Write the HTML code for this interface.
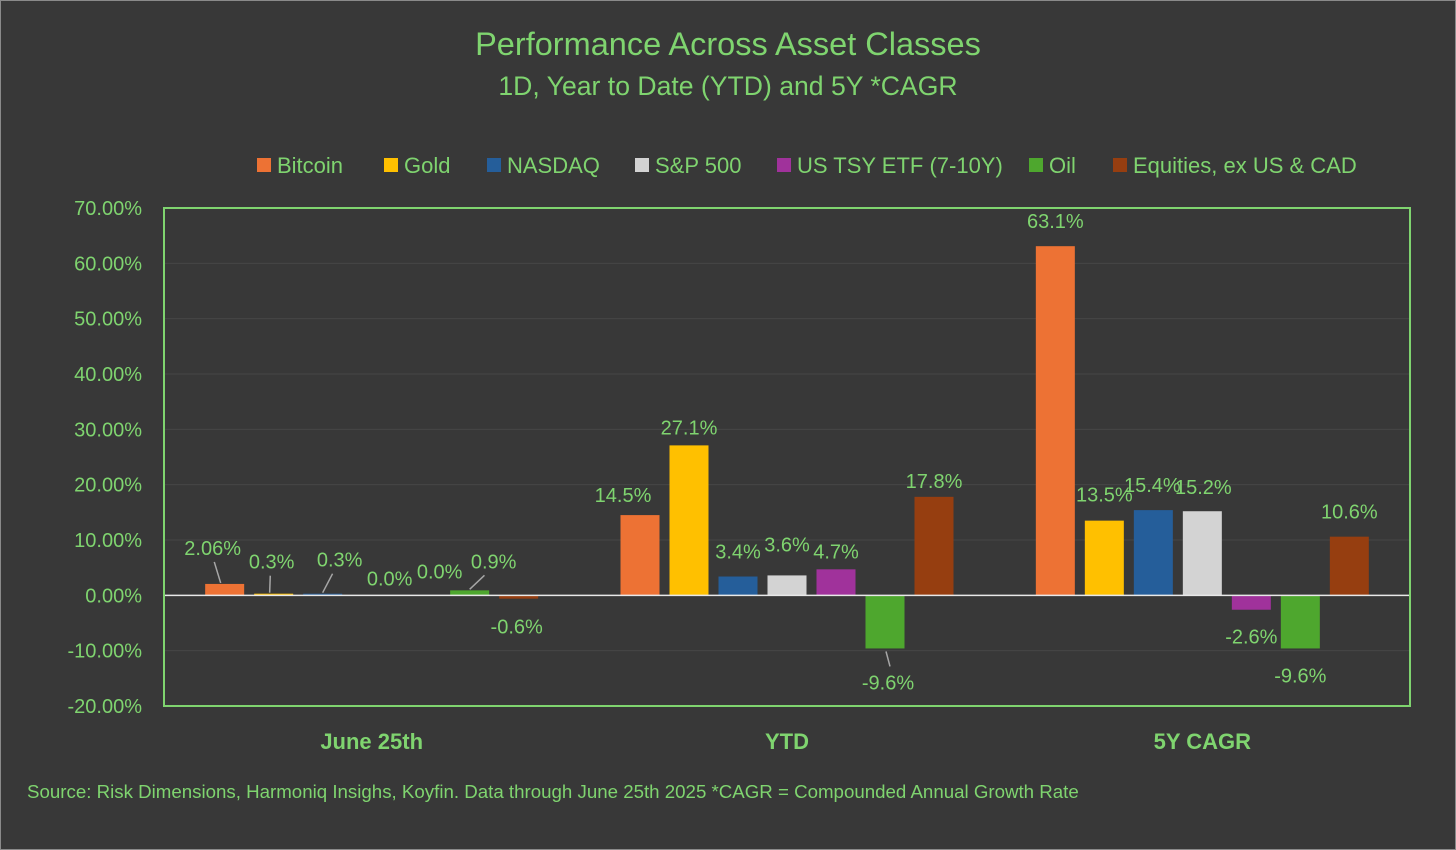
<!DOCTYPE html>
<html><head><meta charset="utf-8"><style>
html,body{margin:0;padding:0;background:#383838;}
body{width:1456px;height:850px;overflow:hidden;font-family:"Liberation Sans",sans-serif;}
svg{display:block}
</style></head><body>
<svg id="chart" width="1456" height="850" xmlns="http://www.w3.org/2000/svg">
<rect x="0.5" y="0.5" width="1455" height="849" fill="#383838" stroke="#8a8a8a" stroke-width="1"/>
<text x="728" y="55" text-anchor="middle" font-size="32.5" fill="#7fd46f">Performance Across Asset Classes</text>
<text x="728" y="95" text-anchor="middle" font-size="26.6" fill="#7fd46f">1D, Year to Date (YTD) and 5Y *CAGR</text>
<g id="legend"></g>
<g id="grid"></g>
<g id="yaxis"></g>
<g id="bars"></g>
<g id="labels"></g>
<g id="xaxis"></g>
<rect x="164" y="208" width="1246" height="498" fill="none" stroke="#7fd46f" stroke-width="2"/>
<text x="27" y="798" font-size="18.7" fill="#7fd46f">Source: Risk Dimensions, Harmoniq Insighs, Koyfin. Data through June 25th 2025  *CAGR = Compounded Annual Growth Rate</text>
</svg>
<script>
const categories = ["June 25th", "YTD", "5Y CAGR"];
const seriesNames = ["Bitcoin", "Gold", "NASDAQ", "S&P 500", "US TSY ETF (7-10Y)", "Oil", "Equities, ex US & CAD"];
const bitcoin = [2.06, 14.5, 63.1];
const gold = [0.3, 27.1, 13.5];
const nasdaq = [0.3, 3.4, 15.4];
const sp500 = [0.0, 3.6, 15.2];
const tsy = [0.0, 4.7, -2.6];
const oil = [0.9, -9.6, -9.6];
const equitiesExUs = [-0.6, 17.8, 10.6];
const labelTexts = [["2.06%","14.5%","63.1%"],["0.3%","27.1%","13.5%"],["0.3%","3.4%","15.4%"],["0.0%","3.6%","15.2%"],["0.0%","4.7%","-2.6%"],["0.9%","-9.6%","-9.6%"],["-0.6%","17.8%","10.6%"]];
const yTicks = [-20, -10, 0, 10, 20, 30, 40, 50, 60, 70];
const series = [bitcoin, gold, nasdaq, sp500, tsy, oil, equitiesExUs];

const colors = ["#ed7234","#ffc000","#255e9a","#d3d3d3","#a0329b","#4ea72e","#963e10"];
const legendX = [257,384,487,635,777,1029,1113];
const labelDx = [[-12,-17,0],[-2,0,0],[17,0,-1],[18,0,1],[19,0,0],[24,3,0],[-2,0,0]];
const labelDy = [[-16,0,-5],[-12,2,-6],[-14,-5,-5],[3,-11,-4],[-4,2,7],[-9,14,7],[8,4,-5]];
const leaders = [[1,0,0],[1,0,0],[1,0,0],[0,0,0],[0,0,0],[1,1,0],[0,0,0]];

const NS = "http://www.w3.org/2000/svg";
const plotL = 164, plotR = 1410, plotT = 208, plotB = 706, yMin = -20, yMax = 70;
function y(v){ return plotB - (v - yMin) / (yMax - yMin) * (plotB - plotT); }
const catW = (plotR - plotL) / categories.length;
function xCat(i){ return plotL + catW * (i + 0.5); }
const step = 49, barW = 39;
function xBar(c, s){ return xCat(c) + (s - (series.length - 1) / 2) * step; }
function mk(tag, attrs, parent){ const e = document.createElementNS(NS, tag); for (const k in attrs) e.setAttribute(k, attrs[k]); parent.appendChild(e); return e; }
const fg = "#7fd46f";

const gGrid = document.getElementById("grid"), gY = document.getElementById("yaxis");
yTicks.forEach(t => {
  if (t !== 0 && t !== yMin && t !== yMax) {
    const l = mk("line", {x1: plotL, x2: plotR, y1: y(t), y2: y(t), stroke: "#464646", "stroke-width": 1}, gGrid);
    
    
  }
  const tx = mk("text", {x: 142, y: y(t) + 7, "text-anchor": "end", "font-size": 20, fill: fg}, gY);
  tx.textContent = t.toFixed(2) + "%";
  
  
});

const gLeg = document.getElementById("legend");
seriesNames.forEach((n, i) => {
  const g = mk("g", {}, gLeg);
  
  
  mk("rect", {x: legendX[i], y: 158, width: 14, height: 14, fill: colors[i]}, g);
  const t = mk("text", {x: legendX[i] + 20, y: 173, "font-size": 22, fill: fg}, g);
  t.textContent = n;
});

const gBars = document.getElementById("bars"), gLab = document.getElementById("labels");
series.forEach((vals, s) => {
  vals.forEach((v, c) => {
    const cx = xBar(c, s);
    const top = Math.min(y(v), y(0)), h = Math.abs(y(v) - y(0));
    if (h > 0.3) {
      const r = mk("rect", {x: cx - barW / 2, y: top, width: barW, height: Math.max(h, 1.5), fill: colors[s]}, gBars);
      
      
    }
    const lx = cx + labelDx[s][c];
    const ly = (v >= 0 ? y(v) - 20 : y(v) + 20) + labelDy[s][c];
    if (leaders[s][c]) {
      const ln = v >= 0
        ? mk("line", {x1: lx + (cx - lx) * 0.3 - 2, y1: ly + 14, x2: cx + (lx < cx ? -4 : 0), y2: y(v) - 1, stroke: "#a6a6a6", "stroke-width": 1.5}, gLab)
        : mk("line", {x1: cx + 1, y1: y(v) + 3, x2: lx + 2, y2: ly - 16, stroke: "#a6a6a6", "stroke-width": 1.5}, gLab);
      
      
    }
    const t = mk("text", {x: lx, y: ly + 7, "text-anchor": "middle", "font-size": 20, fill: fg}, gLab);
    t.textContent = labelTexts[s][c];
    
    
  });
});

const gX = document.getElementById("xaxis");
const zl = mk("line", {x1: plotL, x2: plotR, y1: y(0), y2: y(0), stroke: "#e8e8e8", "stroke-width": 1.5}, gX);


categories.forEach((c, i) => {
  const t = mk("text", {x: xCat(i), y: 749, "text-anchor": "middle", "font-size": 22, "font-weight": "bold", fill: fg}, gX);
  t.textContent = c;
  
  
});
</script>
</body></html>
